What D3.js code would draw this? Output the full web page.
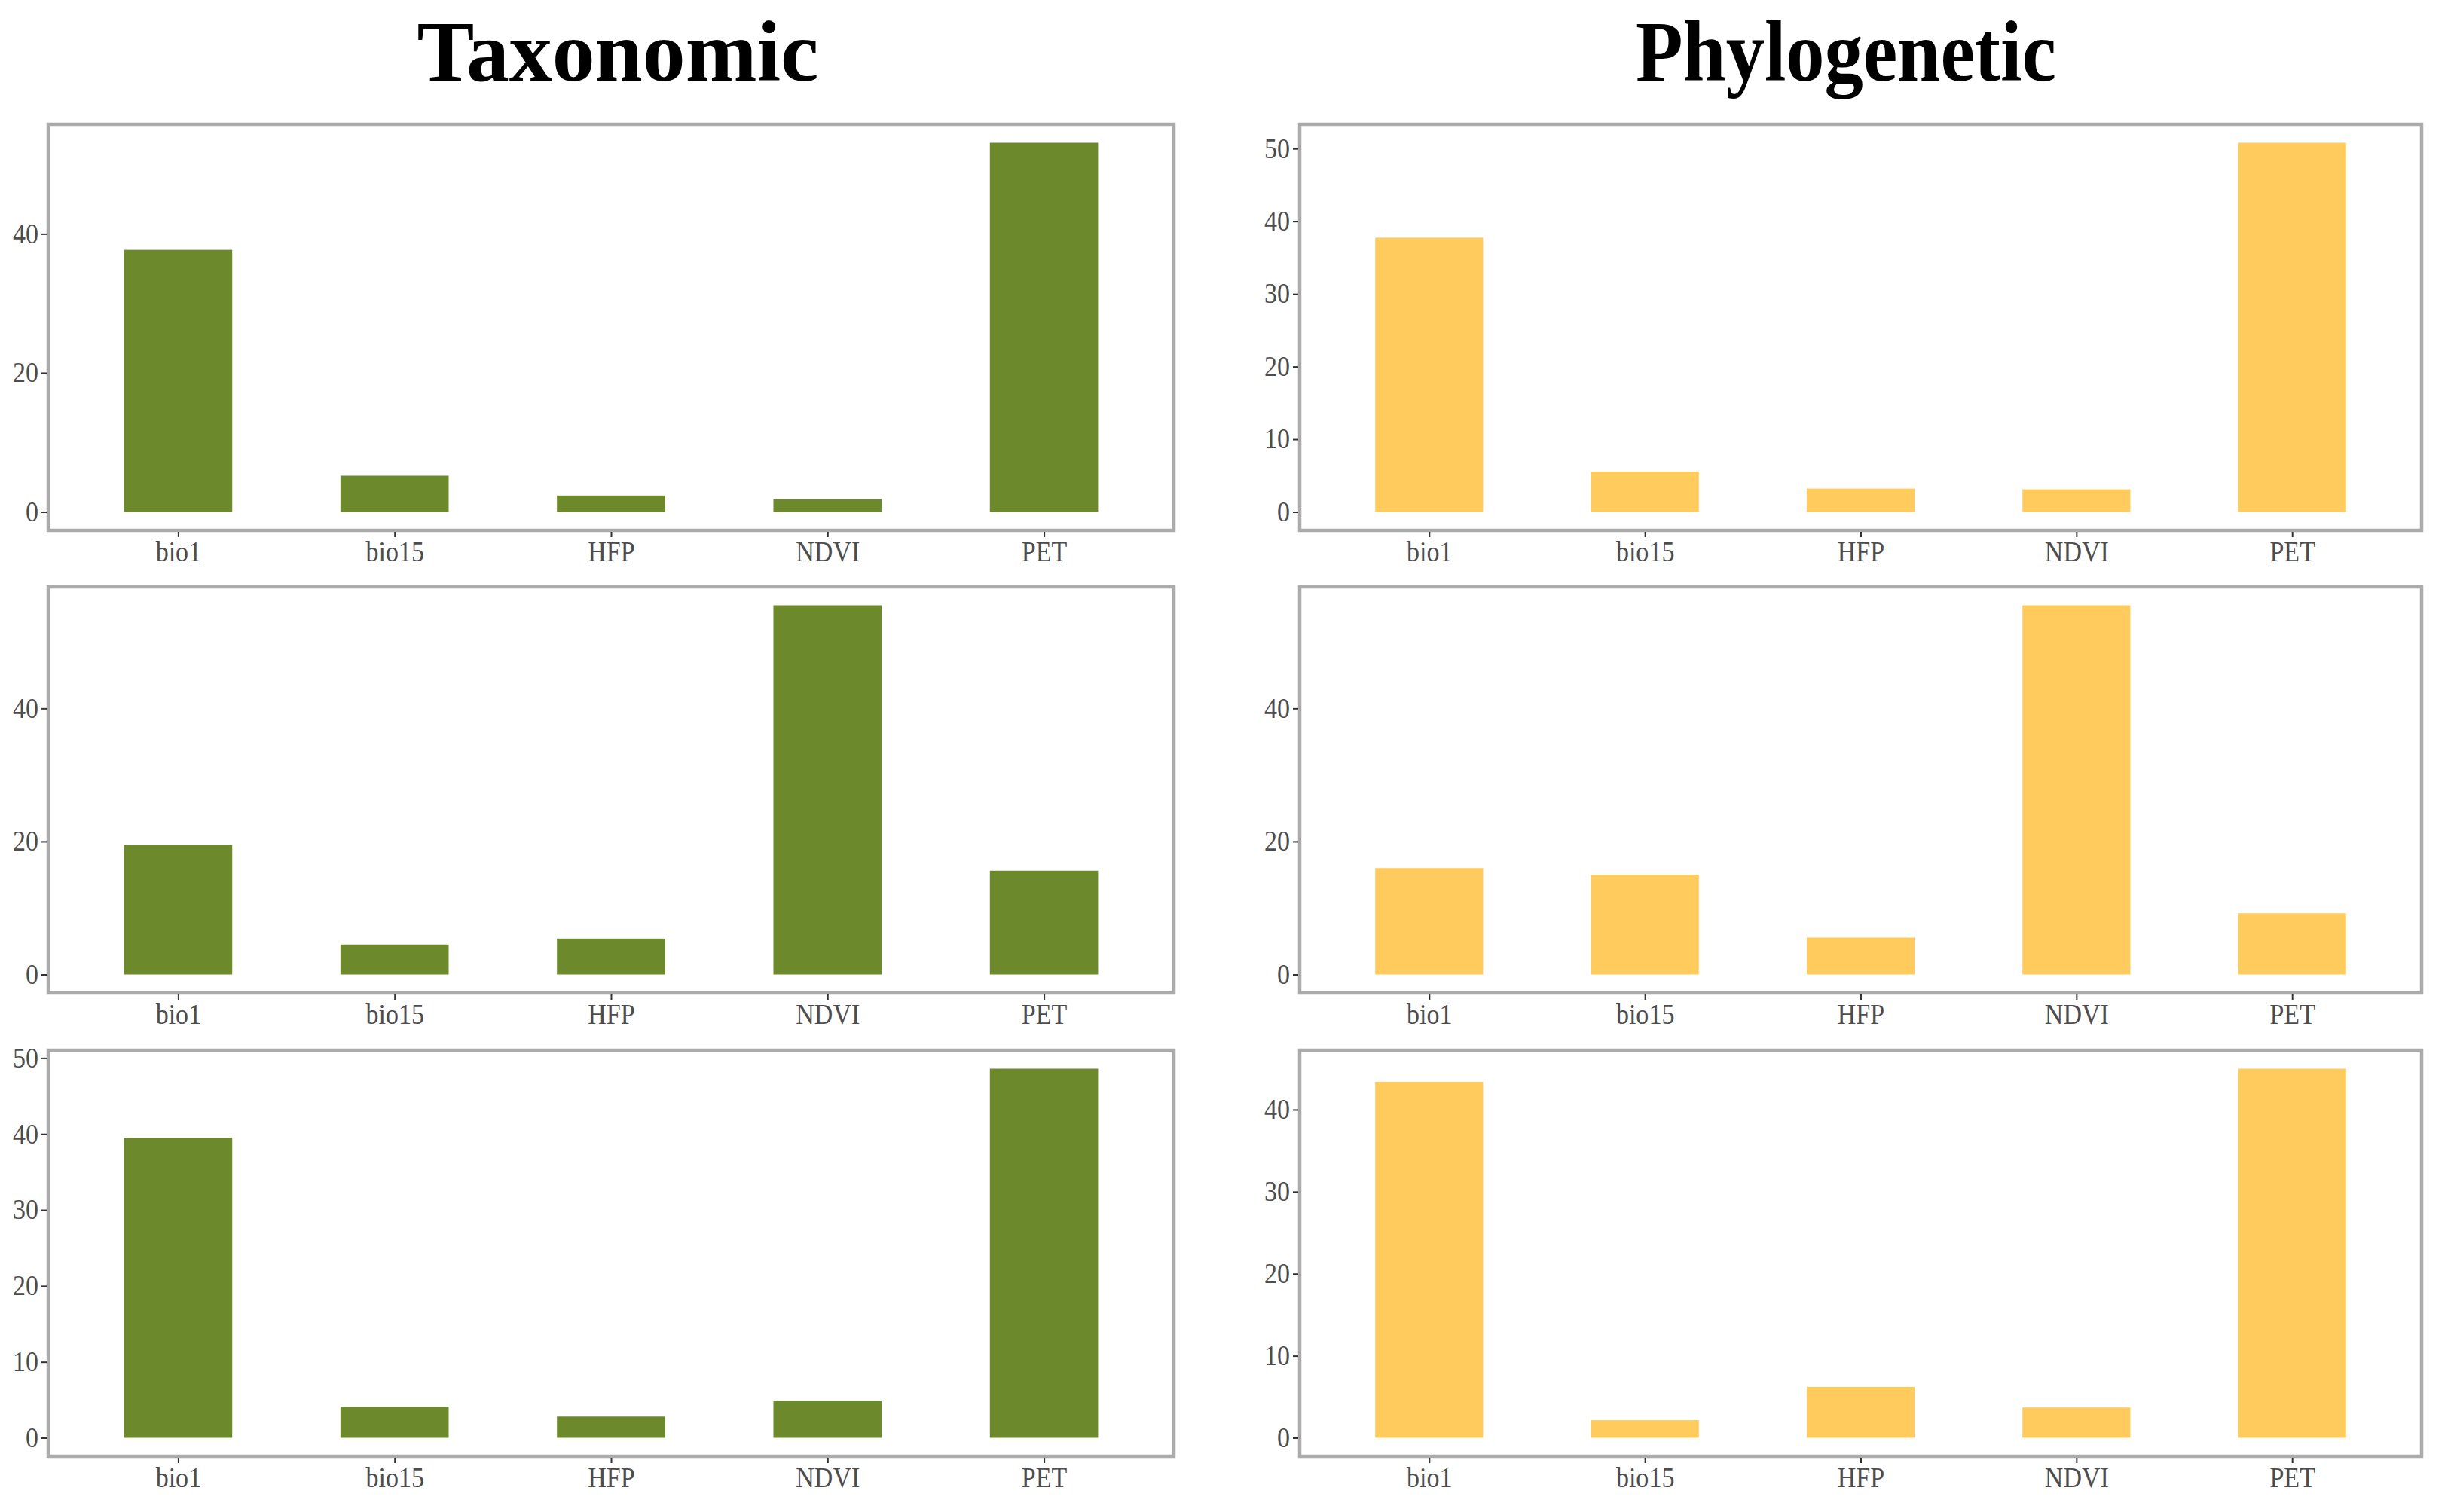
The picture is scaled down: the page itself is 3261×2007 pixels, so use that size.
<!DOCTYPE html>
<html>
<head>
<meta charset="utf-8">
<script src="https://cdn.jsdelivr.net/npm/d3@7"></script>
<style>
  body { margin: 0; background: #fff; }
  text { font-family: "Liberation Serif", "Times New Roman", serif; }
</style>
</head>
<body>
<script>
// categories and values
const categories = ["bio1", "bio15", "HFP", "NDVI", "PET"];

const taxonomic1 = [37.7, 5.2, 2.35, 1.8, 53.1];
const taxonomic2 = [19.5, 4.5, 5.4, 55.5, 15.6];
const taxonomic3 = [39.5, 4.1, 2.8, 4.9, 48.6];

const phylogenetic1 = [37.75, 5.55, 3.2, 3.1, 50.8];
const phylogenetic2 = [16.0, 15.0, 5.55, 55.5, 9.2];
const phylogenetic3 = [43.4, 2.15, 6.2, 3.7, 45.0];

// y tick labels of each panel
const taxTicks1 = [0, 20, 40];
const taxTicks2 = [0, 20, 40];
const taxTicks3 = [0, 10, 20, 30, 40, 50];
const phyTicks1 = [0, 10, 20, 30, 40, 50];
const phyTicks2 = [0, 20, 40];
const phyTicks3 = [0, 10, 20, 30, 40];

const titles = ["Taxonomic", "Phylogenetic"];
const green = "#6C8A2C";
const yellow = "#FECB5C";

const w = 3261;
const h = 2007;

const svg = d3.select("body")
  .append("svg")
  .attr("width", w)
  .attr("height", h);

// panel layout
const cols = [
  {x0: 64, x1: 1558, titleX: 820, titleLen: 533, color: green},
  {x0: 1725, x1: 3214, titleX: 2450, titleLen: 558, color: yellow}
];
const rowTops = [165, 779, 1394];
const panelH = 539;

const panels = [
  {col: 0, row: 0, values: taxonomic1, ticks: taxTicks1},
  {col: 0, row: 1, values: taxonomic2, ticks: taxTicks2},
  {col: 0, row: 2, values: taxonomic3, ticks: taxTicks3},
  {col: 1, row: 0, values: phylogenetic1, ticks: phyTicks1},
  {col: 1, row: 1, values: phylogenetic2, ticks: phyTicks2},
  {col: 1, row: 2, values: phylogenetic3, ticks: phyTicks3}
];

// titles
svg.selectAll("text.title")
  .data(cols)
  .enter()
  .append("text")
  .attr("class", "title")
  .attr("x", d => d.titleX)
  .attr("y", 107)
  .attr("text-anchor", "middle")
  .attr("textLength", d => d.titleLen)
  .attr("lengthAdjust", "spacingAndGlyphs")
  .style("font-size", "115px")
  .style("font-weight", "bold")
  .style("fill", "#000")
  .text((d, i) => titles[i]);

panels.forEach(p => {
  const c = cols[p.col];
  const top = rowTops[p.row];
  const bottom = top + panelH;
  const max = d3.max(p.values);

  const xScale = d3.scalePoint()
    .domain(categories)
    .range([c.x0, c.x1])
    .padding(0.6);

  const yScale = d3.scaleLinear()
    .domain([-0.05 * max, 1.05 * max])
    .range([bottom, top]);

  const barW = xScale.step() * 0.5;

  const g = svg.append("g");

  g.selectAll("rect.bar")
    .data(p.values)
    .enter()
    .append("rect")
    .attr("class", "bar")
    .attr("x", (d, i) => xScale(categories[i]) - barW / 2)
    .attr("y", d => yScale(d))
    .attr("width", barW)
    .attr("height", d => yScale(0) - yScale(d))
    .attr("fill", c.color);

  // panel border
  g.append("rect")
    .attr("x", c.x0)
    .attr("y", top)
    .attr("width", c.x1 - c.x0)
    .attr("height", panelH)
    .attr("fill", "none")
    .attr("stroke", "#ABABAB")
    .attr("stroke-width", 4.5);

  const xAxis = d3.axisBottom(xScale).tickSize(7).tickPadding(6);
  const yAxis = d3.axisLeft(yScale).tickValues(p.ticks).tickSize(7).tickPadding(5);

  const gx = g.append("g")
    .attr("transform", "translate(0," + (bottom + 2) + ")")
    .call(xAxis);
  const gy = g.append("g")
    .attr("transform", "translate(" + (c.x0 - 2) + ",0)")
    .call(yAxis);

  [gx, gy].forEach(a => {
    a.select(".domain").remove();
    a.selectAll(".tick line").attr("stroke", "#333").attr("stroke-width", 2);
    a.selectAll(".tick text")
      .style("font-size", "37px")
      .style("font-family", "'Liberation Serif', 'Times New Roman', serif")
      .style("fill", "#4D4D4D")
      .attr("transform", "scale(0.92,1)");
  });
});
</script>
</body>
</html>
